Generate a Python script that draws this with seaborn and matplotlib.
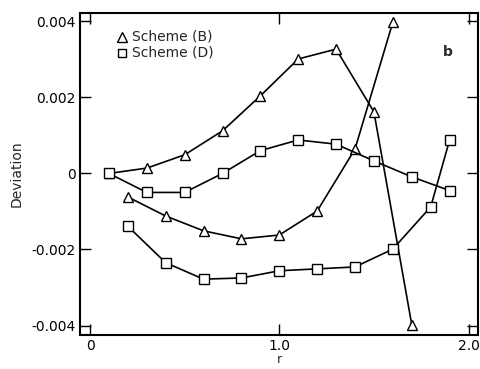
import matplotlib
matplotlib.use("Agg")
import matplotlib.pyplot as plt
import seaborn as sns
import pandas as pd

# Scheme (B), two branches
b1_r = [0.1, 0.3, 0.5, 0.7, 0.9, 1.1, 1.3, 1.5, 1.7]
b1_dev = [0.0, 0.00014, 0.00049, 0.00112, 0.00204, 0.00301, 0.00327, 0.00162, -0.00398]
b2_r = [0.2, 0.4, 0.6, 0.8, 1.0, 1.2, 1.4, 1.6]
b2_dev = [-0.00062, -0.00112, -0.00151, -0.00172, -0.00162, -0.00099, 0.00064, 0.00398]

# Scheme (D), two branches
d1_r = [0.1, 0.3, 0.5, 0.7, 0.9, 1.1, 1.3, 1.5, 1.7, 1.9]
d1_dev = [0.0, -0.0005, -0.0005, 0.0, 0.0006, 0.00088, 0.00077, 0.00033, -0.00009, -0.00045]
d2_r = [0.2, 0.4, 0.6, 0.8, 1.0, 1.2, 1.4, 1.6, 1.8, 1.9]
d2_dev = [-0.00139, -0.00235, -0.00278, -0.00275, -0.00256, -0.00251, -0.00246, -0.00199, -0.00088, 0.00088]

x_ticks = [0, 1.0, 2.0]
x_ticklabels = ["0", "1.0", "2.0"]
y_ticks = [0.004, 0.002, 0, -0.002, -0.004]
y_ticklabels = ["0.004", "0.002", "0", "-0.002", "-0.004"]

sns.set_theme(style="ticks")
plt.rcParams["font.family"] = ["DejaVu Sans"]

fig = plt.figure(figsize=(4.81, 3.69), dpi=100)
ax = fig.add_axes([0.1663, 0.0921, 0.8275, 0.8727])

series = [
    (b1_r, b1_dev, "^"),
    (b2_r, b2_dev, "^"),
    (d1_r, d1_dev, "s"),
    (d2_r, d2_dev, "s"),
]
for r, dev, m in series:
    df = pd.DataFrame({"r": r, "dev": dev})
    sns.lineplot(data=df, x="r", y="dev", ax=ax, color="black", linewidth=1.2,
                 marker=m, markersize=7, markerfacecolor="white",
                 markeredgecolor="black", markeredgewidth=1.0, sort=False,
                 legend=False, zorder=3)

ax.set_xlim(-0.053, 2.05)
ax.set_ylim(-0.00425, 0.00422)
ax.set_xticks(x_ticks)
ax.set_xticklabels(x_ticklabels)
ax.set_yticks(y_ticks)
ax.set_yticklabels(y_ticklabels)
ax.tick_params(direction="in", length=8, width=1.0, top=True, right=True,
               labelsize=10, pad=3, colors="black")
for s in ax.spines.values():
    s.set_linewidth(1.5)
    s.set_color("black")

ax.set_xlabel("r", fontsize=9, labelpad=0)
ax.set_ylabel("Deviation", fontsize=10, labelpad=6)

# legend
ax.plot([0.17], [0.00359], marker="^", markersize=7, markerfacecolor="white",
        markeredgecolor="black", linestyle="none")
ax.plot([0.17], [0.00317], marker="s", markersize=6, markerfacecolor="white",
        markeredgecolor="black", linestyle="none")
ax.text(0.22, 0.00359, "Scheme (B)", fontsize=10, va="center", ha="left")
ax.text(0.22, 0.00317, "Scheme (D)", fontsize=10, va="center", ha="left")

ax.text(1.89, 0.0032, "b", fontsize=10, fontweight="bold", ha="center", va="center")

fig.savefig("out.png", dpi=100)
